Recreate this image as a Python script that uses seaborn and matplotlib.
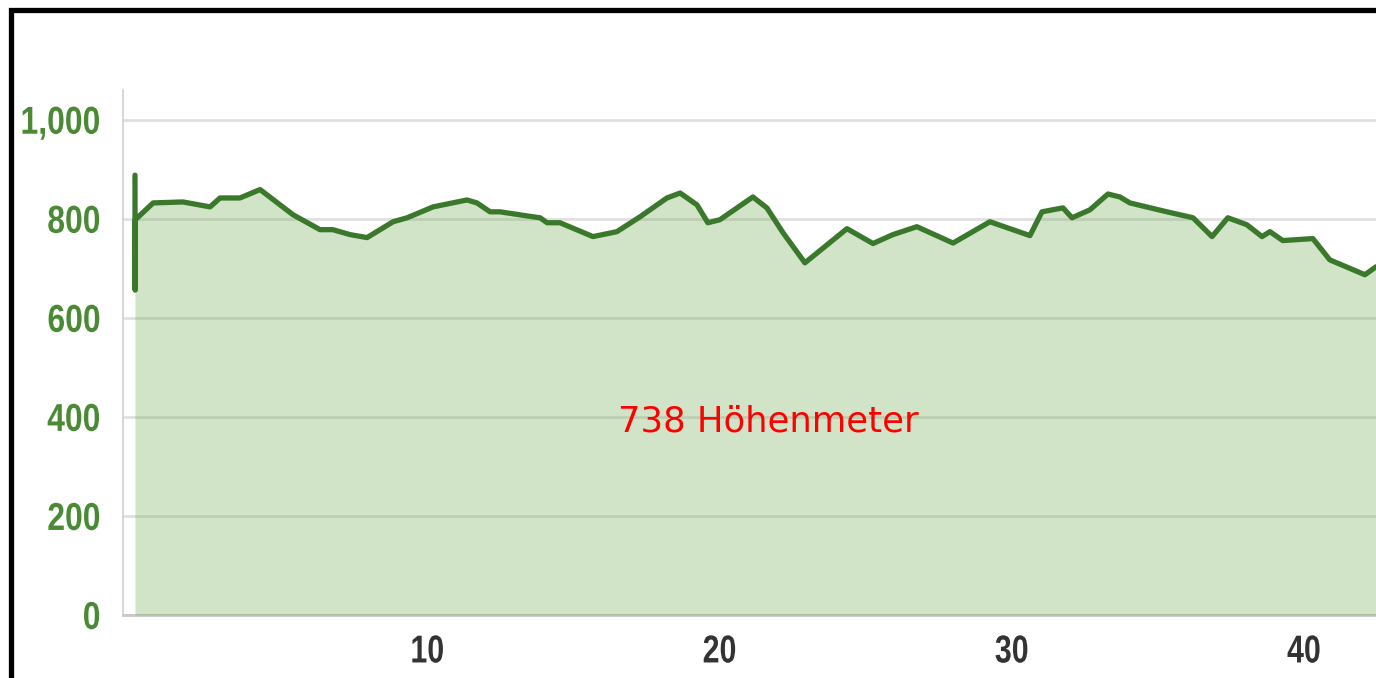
import matplotlib
matplotlib.use("Agg")
import matplotlib.pyplot as plt
import seaborn as sns
import pandas as pd
from matplotlib.patches import Rectangle
from matplotlib.patheffects import AbstractPathEffect
from matplotlib.transforms import Affine2D

# ---- data ----
km = [0.0, 0.005, 0.01, 0.62, 1.64, 2.57, 2.91, 3.59, 4.28, 5.41, 6.33, 6.77,
      7.36, 7.94, 8.83, 9.31, 10.20, 11.36, 11.70, 12.15, 12.49, 13.62, 13.86,
      14.10, 14.54, 15.67, 16.49, 17.28, 18.20, 18.65, 19.23, 19.60, 20.01,
      21.14, 21.62, 22.17, 22.92, 24.36, 25.25, 25.93, 26.75, 27.99, 29.25,
      30.62, 31.03, 31.75, 32.06, 32.67, 33.29, 33.70, 34.04, 35.31, 36.20,
      36.85, 37.39, 38.04, 38.56, 38.83, 39.27, 40.30, 40.88, 42.08, 42.46]
elevation = [888, 656, 798, 832, 834, 824, 842, 842, 859, 808, 778, 778,
             768, 762, 794, 802, 824, 838, 832, 814, 814, 804, 802,
             792, 792, 764, 774, 804, 842, 852, 828, 792, 798,
             844, 822, 772, 711, 780, 750, 768, 784, 751, 794,
             766, 814, 822, 802, 818, 850, 844, 832, 814, 802,
             764, 802, 788, 764, 774, 756, 760, 717, 687, 703]
x_ticks = [0, 10, 20, 30, 40]
x_tick_labels = ["", "10", "20", "30", "40"]
y_ticks = [0, 200, 400, 600, 800, 1000]
y_tick_labels = ["0", "200", "400", "600", "800", "1,000"]
annotation = "738 Höhenmeter"

df = pd.DataFrame({"km": km, "elevation": elevation})


class Squeeze(AbstractPathEffect):
    """Draw text horizontally condensed (no condensed font is installed)."""

    def __init__(self, sx=0.8, anchor="center"):
        super().__init__()
        self.sx = sx
        self.anchor = anchor

    def draw_path(self, renderer, gc, tpath, affine, rgbFace=None):
        ext = tpath.get_extents()
        if self.anchor == "right":
            cx = ext.x1
        elif self.anchor == "left":
            cx = ext.x0
        else:
            cx = 0.5 * (ext.x0 + ext.x1)
        t = Affine2D().translate(-cx, 0).scale(self.sx, 1).translate(cx, 0)
        renderer.draw_path(gc, tpath, t + affine, rgbFace)


sns.set_style("white")
plt.rcParams["font.family"] = ["DejaVu Sans"]
tick_font = ["Liberation Sans", "DejaVu Sans"]

W, H = 1376, 678
fig = plt.figure(figsize=(W / 100, H / 100), dpi=100)
ax = fig.add_axes([123 / W, 63 / H, 1 - 123 / W, (615 - 90) / H])

ax.fill_between(df["km"], 0, df["elevation"], color="#6ca84b", alpha=0.3,
                linewidth=0, zorder=3)
sns.lineplot(data=df, x="km", y="elevation", ax=ax, color="#3a782b",
             linewidth=3.8, estimator=None, sort=False, zorder=4)
for l in ax.lines:
    l.set_solid_joinstyle("round")

ax.set_xlim(-0.41, 42.46)
ax.set_ylim(0, 1060)
ax.set_xlabel("")
ax.set_ylabel("")

ax.set_yticks(y_ticks)
ax.set_yticklabels(y_tick_labels)
ax.set_xticks(x_ticks)
ax.set_xticklabels(x_tick_labels)

ax.yaxis.grid(True, color="#e0e0e0", linewidth=2.0, zorder=1)
ax.xaxis.grid(False)
ax.set_axisbelow(True)

for side in ["top", "right"]:
    ax.spines[side].set_visible(False)
ax.spines["left"].set_color("#d0d0d0")
ax.spines["left"].set_linewidth(1.2)
ax.spines["bottom"].set_color("#c8c8c8")
ax.spines["bottom"].set_linewidth(2.0)

ax.tick_params(axis="y", direction="out", length=8, width=1.2,
               color="#cfcfcf", pad=8)
ax.tick_params(axis="x", direction="out", length=6, width=1.2,
               color="#cfcfcf", pad=8)

for t in ax.get_yticklabels():
    t.set_family(tick_font)
    t.set_fontsize(28)
    t.set_fontweight("bold")
    t.set_color("#4a8a35")
    t.set_path_effects([Squeeze(0.82, "right")])
for t in ax.get_xticklabels():
    t.set_family(tick_font)
    t.set_fontsize(28)
    t.set_fontweight("bold")
    t.set_color("#333333")
    t.set_path_effects([Squeeze(0.78, "center")])

fig.text(768 / W, 1 - 422 / H, annotation, color="#ff0000", fontsize=25.5,
         ha="center", va="center")

# black frame (top and left edges visible, the others are cropped off)
fig.add_artist(Rectangle((11.5 / W, -0.2), 2.0, 0.2 + (1 - 9.5 / H),
                         transform=fig.transFigure, fill=False,
                         edgecolor="black", linewidth=3.8, zorder=10))

fig.savefig("out.png", dpi=100)
